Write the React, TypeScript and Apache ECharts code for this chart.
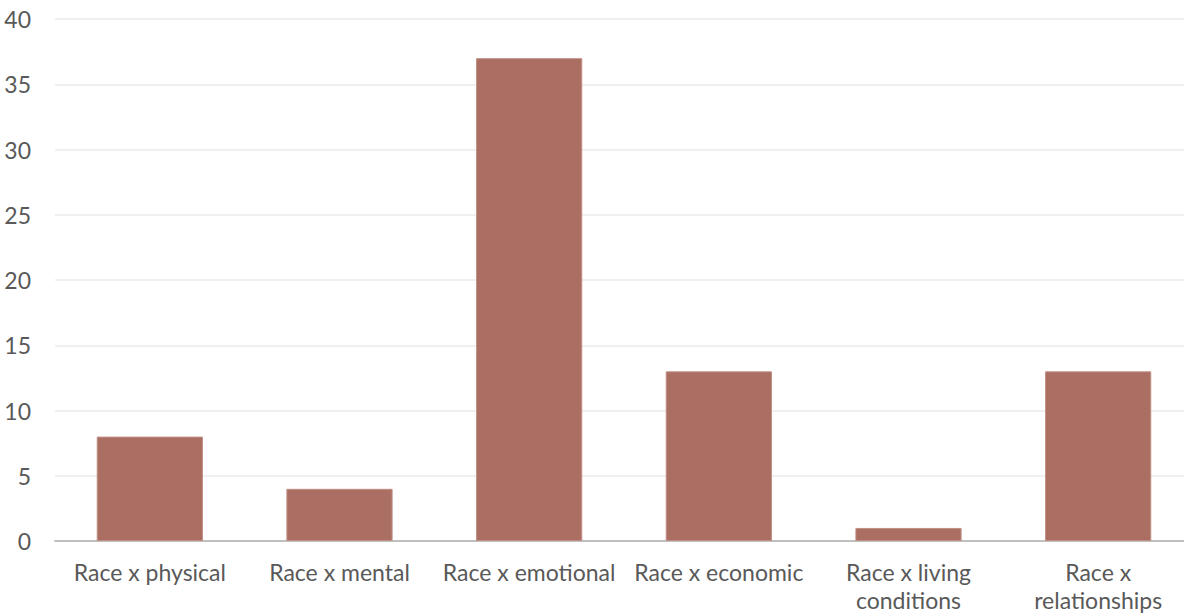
import React, { useEffect, useRef } from "react";
import * as echarts from "echarts";

const categories = [
  "Race x physical",
  "Race x mental",
  "Race x emotional",
  "Race x economic",
  "Race x living\nconditions",
  "Race x\nrelationships",
];
const values = [8, 4, 37, 13, 1, 13];
const yTicks = { min: 0, max: 40, interval: 5 };

export default function App() {
  const ref = useRef<HTMLDivElement>(null);
  useEffect(() => {
    if (!ref.current) return;
    const chart = echarts.init(ref.current, undefined, { renderer: "svg" });
    chart.setOption({
      animation: false,
      grid: { left: 55, right: 0, top: 19, bottom: 75, containLabel: false },
      xAxis: {
        type: "category",
        data: categories,
        axisLine: { lineStyle: { color: "#BFBFBF", width: 2 } },
        axisTick: { show: false },
        axisLabel: {
          interval: 0,
          color: "#595959",
          fontFamily: "Lato",
          fontSize: 23,
          lineHeight: 28,
          margin: 17,
        },
      },
      yAxis: {
        type: "value",
        min: yTicks.min,
        max: yTicks.max,
        interval: yTicks.interval,
        axisLine: { show: false },
        axisTick: { show: false },
        splitLine: { lineStyle: { color: "#EBEBEB", width: 1.5 } },
        axisLabel: {
          color: "#595959",
          fontFamily: "Lato",
          fontSize: 23,
          margin: 24,
        },
      },
      series: [
        {
          type: "bar",
          data: values,
          barWidth: "56%",
          itemStyle: { color: "#AB6E62", borderColor: "#C08F85", borderWidth: 1 },
        },
      ],
    });
    return () => chart.dispose();
  }, []);
  return (
    <div style={{ width: 1184, height: 616, position: "absolute", left: 0, top: 0, overflow: "hidden" }}>
      <div ref={ref} style={{ width: 1193, height: 616 }} />
    </div>
  );
}
